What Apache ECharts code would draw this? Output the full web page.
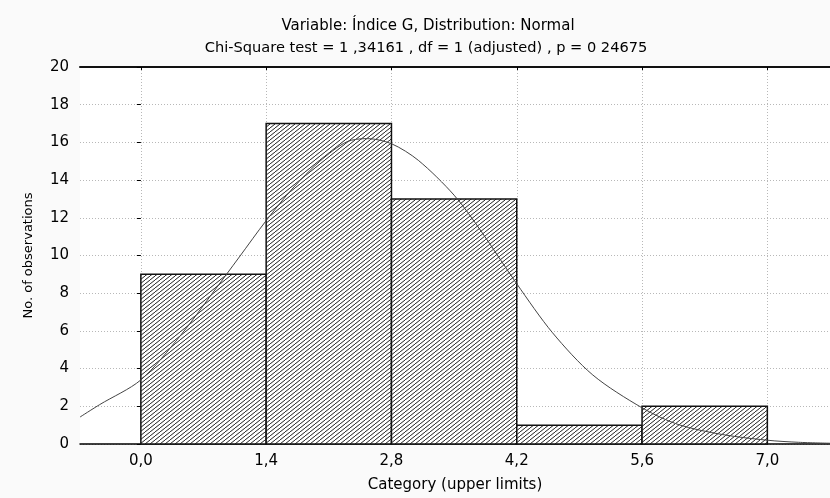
<!DOCTYPE html>
<html>
<head>
<meta charset="utf-8">
<script src="https://cdn.jsdelivr.net/npm/echarts@6/dist/echarts.min.js"></script>
<style>
  html, body { margin: 0; padding: 0; background: #fafafa; }
  #chart { width: 830px; height: 498px; }
</style>
</head>
<body>
<div id="chart"></div>
<script>
// histogram bins (lower / upper limits) and counts
const binStart = [0.0, 1.4, 2.8, 4.2, 5.6];
const binEnd = [1.4, 2.8, 4.2, 5.6, 7.0];
const counts = [9, 17, 13, 1, 2];

// fitted normal curve
const curveX = [-0.68, -0.46, 0.0, 0.44, 0.8, 1.1, 1.4, 1.7, 2.0, 2.3, 2.53, 2.8, 3.1, 3.5, 3.8, 4.2, 4.6, 5.05, 5.6, 6.0, 6.5, 7.0, 7.35, 7.7];
const curveY = [1.43, 2.09, 3.4, 5.74, 8.0, 9.92, 11.85, 13.58, 15.0, 16.03, 16.2, 15.93, 15.05, 13.2, 11.3, 8.5, 5.9, 3.66, 1.92, 1.04, 0.5, 0.2, 0.09, 0.04];

const xTicks = [0.0, 1.4, 2.8, 4.2, 5.6, 7.0];

const font = '"DejaVu Sans", Verdana, sans-serif';

// diagonal hatch "////"
const makeHatch = () => {
  const w = 5;
  const h = 4;
  const cv = document.createElement('canvas');
  cv.width = w;
  cv.height = h;
  const ctx = cv.getContext('2d');
  ctx.fillStyle = '#fff';
  ctx.fillRect(0, 0, w, h);
  ctx.strokeStyle = '#222';
  ctx.lineWidth = 1;
  ctx.beginPath();
  for (const dx of [-w, 0, w]) {
    ctx.moveTo(dx, h);
    ctx.lineTo(dx + w, 0);
  }
  ctx.stroke();
  return cv;
};
const hatch = makeHatch();

const barData = counts.map((c, i) => [binStart[i], binEnd[i], c]);
const curveData = curveX.map((x, i) => [x, curveY[i]]);

const chart = echarts.init(document.getElementById('chart'), null, { renderer: 'canvas' });

const textStyle = { fontFamily: font, fontSize: 15, fontWeight: 'normal', color: '#000' };

chart.setOption({
  backgroundColor: '#fafafa',
  animation: false,
  title: [
    {
      text: 'Variable: Índice G, Distribution: Normal',
      left: 428,
      top: 19,
      padding: 0,
      textAlign: 'center',
      textStyle,
    },
    {
      text: 'Chi-Square test = 1 ,34161 , df = 1 (adjusted) , p = 0 24675',
      left: 426,
      top: 41,
      padding: 0,
      textAlign: 'center',
      textStyle: { ...textStyle, fontSize: 14.6 },
    },
  ],
  grid: {
    left: 80,
    right: 0,
    top: 67,
    bottom: 48,
    show: true,
    backgroundColor: '#fff',
    borderWidth: 0,
  },
  xAxis: [
    {
      type: 'value',
      min: -0.68,
      max: 7.7,
      name: 'Category (upper limits)',
      nameLocation: 'middle',
      nameGap: 34,
      nameTextStyle: { fontFamily: font, fontSize: 15, color: '#000' },
      axisLine: { show: true, lineStyle: { color: '#000', width: 1.5 } },
      axisTick: { show: false, customValues: xTicks },
      axisLabel: {
        customValues: xTicks,
        margin: 10,
        fontFamily: font,
        fontSize: 15,
        color: '#000',
        formatter: (v) => v.toFixed(1).replace('.', ','),
      },
      splitLine: { show: true, lineStyle: { color: '#b8b8b8', type: [1, 2], width: 1 } },
    },
    {
      type: 'value',
      position: 'top',
      min: -0.68,
      max: 7.7,
      axisLine: { show: true, onZero: false, lineStyle: { color: '#111', width: 2 } },
      axisTick: { show: true, inside: true, length: 3, customValues: xTicks, lineStyle: { color: '#000' } },
      axisLabel: { show: false },
      splitLine: { show: false },
    },
  ],
  yAxis: {
    type: 'value',
    min: 0,
    max: 20,
    interval: 2,
    name: 'No. of observations',
    nameLocation: 'middle',
    nameGap: 45,
    nameTextStyle: { fontFamily: font, fontSize: 13, color: '#000' },
    axisLine: { show: false },
    axisTick: { show: true, length: 4, lineStyle: { color: '#000' } },
    axisLabel: { margin: 11, fontFamily: font, fontSize: 15, color: '#000' },
    splitLine: { show: true, lineStyle: { color: '#b8b8b8', type: [1, 2], width: 1 } },
  },
  series: [
    {
      type: 'custom',
      data: barData,
      encode: { x: [0, 1], y: 2 },
      renderItem: (params, api) => {
        const p0 = api.coord([api.value(0), api.value(2)]);
        const p1 = api.coord([api.value(1), 0]);
        return {
          type: 'rect',
          shape: { x: p0[0], y: p0[1], width: p1[0] - p0[0], height: p1[1] - p0[1] },
          style: {
            fill: { image: hatch, repeat: 'repeat' },
            stroke: '#111',
            lineWidth: 1.5,
          },
        };
      },
      z: 2,
    },
    {
      type: 'line',
      data: curveData,
      smooth: 0.3,
      showSymbol: false,
      lineStyle: { color: '#444', width: 1 },
      z: 3,
    },
  ],
});
</script>
</body>
</html>
